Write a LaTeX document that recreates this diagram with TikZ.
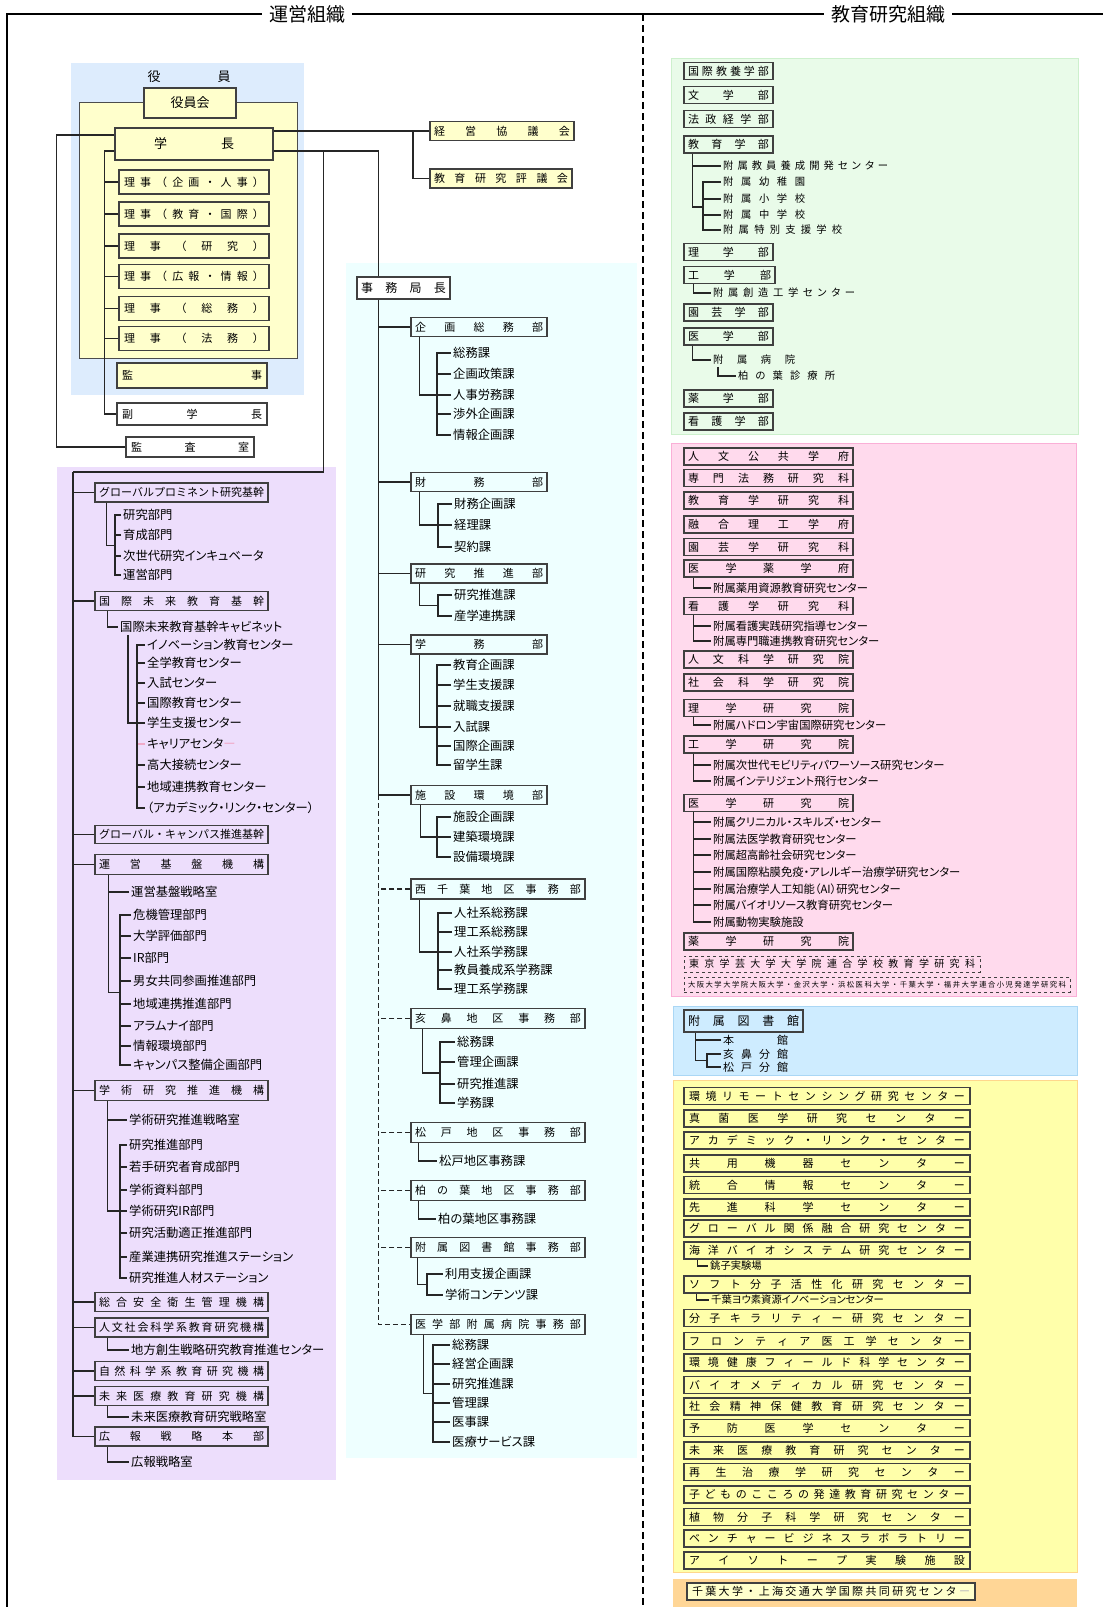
\documentclass[tikz,border=0pt]{standalone}
\usepackage{fontspec}
\setmainfont{Noto Sans CJK JP}
\newfontfamily\jpprop[RawFeature=+palt]{Noto Sans CJK JP}
\usetikzlibrary{calc}
\definecolor{yakuinblue}{RGB}{221,236,253}
\definecolor{paleyellow}{RGB}{255,255,204}
\definecolor{jimucyan}{RGB}{238,255,255}
\definecolor{kikolilac}{RGB}{237,222,252}
\definecolor{gakubugreen}{RGB}{233,251,233}
\definecolor{gakubuedge}{RGB}{205,240,205}
\definecolor{fupink}{RGB}{255,218,237}
\definecolor{fupinkedge}{RGB}{250,175,215}
\definecolor{toshoblue}{RGB}{206,236,255}
\definecolor{toshoedge}{RGB}{170,215,245}
\definecolor{centeryellow}{RGB}{255,255,170}
\definecolor{centeredge}{RGB}{255,215,140}
\definecolor{kyodoorange}{RGB}{255,214,150}
\definecolor{fadepink}{RGB}{240,170,200}
\newcommand\bxfont{\fontsize{11}{13}\selectfont}
\newcommand\itmfont{\jpprop\fontsize{12.3}{14}\selectfont}
\newcommand\pkfont{\jpprop\fontsize{11.3}{13}\selectfont}
\newcommand\smfont{\jpprop\fontsize{10.3}{12}\selectfont}
\newcommand\hdfont{\fontsize{19}{21}\selectfont}
% spread the characters of #2 over #1 pt
\makeatletter
\newcommand\spr[2]{\makebox[#1pt][s]{\let\spr@sep\relax\expandafter\@tfor\expandafter\spr@c\expandafter:\expandafter=#2\do{\spr@sep\spr@c\let\spr@sep\hfil}}}
\makeatother
\tikzstyle{box}  = [rectangle, draw=black!75, line width=1.3pt, inner sep=0pt,
                    minimum height=17pt, font=\bxfont]
\tikzstyle{item} = [anchor=west, inner sep=2pt, font=\itmfont]
\tikzstyle{link} = [line width=1.1pt, draw=black!85]

\begin{document}
\begin{tikzpicture}[x=1pt, y=-1pt]
  \useasboundingbox (0,0) rectangle (1103,1607);

  % areas
  \fill[yakuinblue] (71,63) rectangle (304,395);
  \fill[jimucyan] (346,263) rectangle (637,1458);
  \fill[kikolilac] (57,467) rectangle (336,1480);
  \filldraw[fill=gakubugreen, draw=gakubuedge] (671,58) rectangle (1078,434);
  \filldraw[fill=fupink, draw=fupinkedge] (671,443) rectangle (1076,996);
  \filldraw[fill=toshoblue, draw=toshoedge] (673,1006) rectangle (1077,1075);
  \filldraw[fill=centeryellow, draw=centeredge] (673,1080) rectangle (1077,1572);
  \fill[kyodoorange] (673,1579) rectangle (1077,1607);

  % headings
  \node (hdunei)   at (307,14) [font=\hdfont, inner sep=7pt] {運営組織};
  \node (hdkyoiku) at (888,14) [font=\hdfont, inner sep=7pt] {教育研究組織};
  \draw[line width=2pt] (7,1607) |- (hdunei.west);
  \draw[line width=2pt] (hdunei.east) -- (hdkyoiku.west);
  \draw[line width=2pt] (hdkyoiku.east) -- (1103,14);
  \draw[line width=1.3pt, dash pattern=on 7pt off 4pt] (643,14) -- (643,1607);

  % ---------- yakuin ----------
  \node (yakuin) at (189,77) [font=\fontsize{13}{14}\selectfont] {\spr{83}{役員}};
  \filldraw[fill=paleyellow, draw=black!70, line width=1pt] (79,102) rectangle (297,358);
  \node (yakuinkai) [box, fill=paleyellow, minimum width=92, minimum height=30,
        font=\fontsize{13}{14}\selectfont] at (190,103) {役員会};
  \node (gakucho) [box, fill=paleyellow, minimum width=158, minimum height=32,
        font=\fontsize{13}{14}\selectfont] at (194,144) {\spr{80}{学長}};
  \node (riji1) [box, fill=paleyellow, minimum width=150, minimum height=24] at (194,182)   {\spr{140}{理事（企画・人事）}};
  \node (riji2) [box, fill=paleyellow, minimum width=150, minimum height=24] at (194,214)   {\spr{140}{理事（教育・国際）}};
  \node (riji3) [box, fill=paleyellow, minimum width=150, minimum height=24] at (194,246)   {\spr{140}{理事（研究）}};
  \node (riji4) [box, fill=paleyellow, minimum width=150, minimum height=24] at (194,276.5) {\spr{140}{理事（広報・情報）}};
  \node (riji5) [box, fill=paleyellow, minimum width=150, minimum height=24] at (194,308.5) {\spr{140}{理事（総務）}};
  \node (riji6) [box, fill=paleyellow, minimum width=150, minimum height=24] at (194,338.5) {\spr{140}{理事（法務）}};
  \node (kanji) [box, fill=paleyellow, minimum width=150, minimum height=25] at (192,375.5) {\spr{140}{監事}};
  \node (fukugakucho) [box, fill=white, minimum width=150, minimum height=22] at (192,414) {\spr{140}{副学長}};
  \node (kansashitsu) [box, fill=white, minimum width=128, minimum height=20] at (190,447) {\spr{118}{監査室}};

  \node (keiei)  [box, fill=paleyellow, minimum width=144, minimum height=19] at (502,131)   {\spr{136}{経営協議会}};
  \node (kyoken) [box, fill=paleyellow, minimum width=142, minimum height=19] at (501,178.5) {\spr{134}{教育研究評議会}};
  \coordinate (kj)   at (413,131);
  \coordinate (ptop) at (73,472);

  \draw[link] ([yshift=9]gakucho.west) -- ++(-58,0) |- (kansashitsu.west);
  \draw[link] ([yshift=-7]gakucho.west) -- ++(-10,0) |- (fukugakucho.west);
  \foreach \i in {1,...,6} \draw[link] (riji\i.west) -- ++(-14,0);
  \draw[link] ([yshift=13]gakucho.east) -- (keiei.west);
  \draw[link] (kj) |- (kyoken.west);

  % ---------- jimukyoku ----------
  \node (jimu) [box, fill=white, minimum width=93, minimum height=22, font=\fontsize{12}{14}\selectfont]
        at (403.5,288) {\spr{85}{事務局長}};
  \draw[link] ([yshift=-7]gakucho.east) -| ([xshift=22]jimu.north west);

  \node (kikaku)   [box, minimum width=136, minimum height=19] at (479,327)   {\spr{128}{企画総務部}};
  \node (zaimu)    [box, minimum width=136, minimum height=19] at (479,482)   {\spr{128}{財務部}};
  \node (kensui)   [box, minimum width=136, minimum height=19] at (479,573.5) {\spr{128}{研究推進部}};
  \node (gakumu)   [box, minimum width=136, minimum height=19] at (479,644.5) {\spr{128}{学務部}};
  \node (shisetsu) [box, minimum width=136, minimum height=19] at (479,795)   {\spr{128}{施設環境部}};
  \node (nishi)    [box, minimum width=174, minimum height=20] at (498,889)   {\spr{166}{西千葉地区事務部}};
  \node (inohana)  [box, minimum width=174, minimum height=20] at (498,1018.5){\spr{166}{亥鼻地区事務部}};
  \node (matsudo)  [box, minimum width=174, minimum height=20] at (498,1132.5){\spr{166}{松戸地区事務部}};
  \node (kashiwa)  [box, minimum width=174, minimum height=20] at (498,1190.5){\spr{166}{柏の葉地区事務部}};
  \node (toshojimu)[box, minimum width=174, minimum height=20] at (498,1247.5){\spr{166}{附属図書館事務部}};
  \node (byoin)    [box, minimum width=174, minimum height=20] at (498,1324.5){\spr{166}{医学部附属病院事務部}};

  \draw[link] ([xshift=22]jimu.south west) |- (shisetsu.west);
  \foreach \n in {kikaku,zaimu,kensui,gakumu} \draw[link] (\n.west) -- ++(-32,0);
  \draw[link, dash pattern=on 5pt off 3pt] ([xshift=-32]shisetsu.west) |- (byoin.west);
  \foreach \n in {nishi,inohana,matsudo,kashiwa,toshojimu}
    \draw[link, dash pattern=on 5pt off 3pt] (\n.west) -- ++(-32,0);

  % kikaku somu
  \node[item] (kk1) at (451,353) {総務課};
  \node[item] (kk2) at (451,374) {企画政策課};
  \node[item] (kk3) at (451,395) {人事労務課};
  \node[item] (kk4) at (451,414) {渉外企画課};
  \node[item] (kk5) at (451,435) {情報企画課};
  \draw[link] (kk1.west) -| ([xshift=-14]kk5.west) -- (kk5.west);
  \foreach \n in {kk2,kk3,kk4} \draw[link] (\n.west) -- ++(-14,0);
  \draw[link] ([xshift=9]kikaku.south west) |- ([xshift=-14]kk3.west);
  % zaimu
  \node[item] (zm1) at (452,504) {財務企画課};
  \node[item] (zm2) at (452,525) {経理課};
  \node[item] (zm3) at (452,547) {契約課};
  \draw[link] (zm1.west) -| ([xshift=-14]zm3.west) -- (zm3.west);
  \draw[link] ([xshift=9]zaimu.south west) |- (zm2.west);
  % kenkyu suishin
  \node[item] (ks1) at (452,595) {研究推進課};
  \node[item] (ks2) at (452,616) {産学連携課};
  \draw[link] (ks1.west) -| ([xshift=-14]ks2.west) -- (ks2.west);
  \draw[link] ([xshift=9]kensui.south west) |- ($(ks1.west)!.5!(ks2.west)+(-14,0)$);
  % gakumu
  \node[item] (gm1) at (451,665) {教育企画課};
  \node[item] (gm2) at (451,685) {学生支援課};
  \node[item] (gm3) at (451,706) {就職支援課};
  \node[item] (gm4) at (451,727) {入試課};
  \node[item] (gm5) at (451,746) {国際企画課};
  \node[item] (gm6) at (451,765) {留学生課};
  \draw[link] (gm1.west) -| ([xshift=-14]gm6.west) -- (gm6.west);
  \foreach \n in {gm2,gm3,gm4,gm5} \draw[link] (\n.west) -- ++(-14,0);
  \draw[link] ([xshift=9]gakumu.south west) |- ([xshift=-14]gm4.west);
  % shisetsu
  \node[item] (ss1) at (451,817) {施設企画課};
  \node[item] (ss2) at (451,837) {建築環境課};
  \node[item] (ss3) at (451,857) {設備環境課};
  \draw[link] (ss1.west) -| ([xshift=-14]ss3.west) -- (ss3.west);
  \draw[link] ([xshift=10]shisetsu.south west) |- (ss2.west);
  % nishi chiba
  \node[item] (nc1) at (452,913) {人社系総務課};
  \node[item] (nc2) at (452,932) {理工系総務課};
  \node[item] (nc3) at (452,952) {人社系学務課};
  \node[item] (nc4) at (452,970) {教員養成系学務課};
  \node[item] (nc5) at (452,989) {理工系学務課};
  \draw[link] (nc1.west) -| ([xshift=-14]nc5.west) -- (nc5.west);
  \foreach \n in {nc2,nc3,nc4} \draw[link] (\n.west) -- ++(-14,0);
  \draw[link] ([xshift=9]nishi.south west) |- ([xshift=-14]nc3.west);
  % inohana
  \node[item] (ih1) at (455,1042) {総務課};
  \node[item] (ih2) at (455,1062) {管理企画課};
  \node[item] (ih3) at (455,1084) {研究推進課};
  \node[item] (ih4) at (455,1103) {学務課};
  \draw[link] (ih1.west) -| ([xshift=-15]ih4.west) -- (ih4.west);
  \foreach \n in {ih2,ih3} \draw[link] (\n.west) -- ++(-15,0);
  \draw[link] ([xshift=12]inohana.south west) |- ($(ih2.west)!.5!(ih3.west)+(-15,0)$);
  % matsudo, kashiwa
  \node[item] (md1) at (437,1161) {松戸地区事務課};
  \draw[link] ([xshift=8]matsudo.south west) |- (md1.west);
  \node[item] (kw1) at (436,1219) {柏の葉地区事務課};
  \draw[link] ([xshift=8]kashiwa.south west) |- (kw1.west);
  % toshokan jimu
  \node[item] (tj1) at (443,1274) {利用支援企画課};
  \node[item] (tj2) at (443,1295) {学術コンテンツ課};
  \draw[link] (tj1.west) -| ([xshift=-16]tj2.west) -- (tj2.west);
  \draw[link] ([xshift=7]toshojimu.south west) |- ($(tj1.west)!.5!(tj2.west)+(-16,0)$);
  % byoin jimu
  \node[item] (bj1) at (450,1345) {総務課};
  \node[item] (bj2) at (450,1364) {経営企画課};
  \node[item] (bj3) at (450,1384) {研究推進課};
  \node[item] (bj4) at (450,1403) {管理課};
  \node[item] (bj5) at (450,1422) {医事課};
  \node[item] (bj6) at (450,1442) {医療サービス課};
  \draw[link] (bj1.west) -| ([xshift=-17]bj6.west) -- (bj6.west);
  \foreach \n in {bj2,bj3,bj4,bj5} \draw[link] (\n.west) -- ++(-17,0);
  \draw[link] ([xshift=13]byoin.south west) |- ($(bj3.west)!.5!(bj4.west)+(-17,0)$);

  % ---------- kiko (purple) ----------
  \node (gp)        [box, minimum width=173, minimum height=19] at (181.5,492.5) {\spr{165}{グローバルプロミネント研究基幹}};
  \node (kokusai)   [box, minimum width=173, minimum height=19] at (181.5,601)   {\spr{165}{国際未来教育基幹}};
  \node (gcampus)   [box, minimum width=173, minimum height=18] at (181.5,834.5) {\spr{165}{グローバル・キャンパス推進基幹}};
  \node (unei)      [box, minimum width=173, minimum height=20] at (181.5,864.5) {\spr{165}{運営基盤機構}};
  \node (gakujutsu) [box, minimum width=173, minimum height=20] at (181.5,1090.5){\spr{165}{学術研究推進機構}};
  \node (anzen)     [box, minimum width=173, minimum height=19] at (181.5,1302)  {\spr{165}{総合安全衛生管理機構}};
  \node (jinbun)    [box, minimum width=173, minimum height=19] at (181.5,1327.5){\spr{165}{人文社会科学系教育研究機構}};
  \node (shizen)    [box, minimum width=173, minimum height=19] at (181.5,1371)  {\spr{165}{自然科学系教育研究機構}};
  \node (mirai)     [box, minimum width=173, minimum height=19] at (181.5,1396)  {\spr{165}{未来医療教育研究機構}};
  \node (koho)      [box, minimum width=173, minimum height=19] at (181.5,1436.5){\spr{165}{広報戦略本部}};

  \draw[link] ([yshift=-7]gakucho.east) -- ++(50,0) |- (ptop);
  \draw[link] (ptop) |- (koho.west);
  \foreach \n in {gp,kokusai,gcampus,unei,gakujutsu,anzen,jinbun,shizen,mirai}
    \draw[link] (\n.west) -- ++(-22,0);

  % global prominent
  \node[item] (gp1) at (121,515) {研究部門};
  \node[item] (gp2) at (121,535) {育成部門};
  \node[item] (gp3) at (121,556) {次世代研究インキュベータ};
  \node[item] (gp4) at (121,575) {運営部門};
  \draw[link] (gp1.west) -| ([xshift=-6]gp4.west) -- (gp4.west);
  \foreach \n in {gp2,gp3} \draw[link] (\n.west) -- ++(-6,0);
  \draw[link] ([xshift=12]gp.south west) |- ($(gp2.west)!.5!(gp3.west)+(-6,0)$);
  % kokusai mirai
  \node[item] (cab) at (118,627) {国際未来教育基幹キャビネット};
  \draw[link] ([xshift=13]kokusai.south west) |- (cab.west);
  \node[item] (cc1) at (145,645) {イノベーション教育センター};
  \node[item] (cc2) at (145,663) {全学教育センター};
  \node[item] (cc3) at (145,683) {入試センター};
  \node[item] (cc4) at (145,703) {国際教育センター};
  \node[item] (cc5) at (145,723) {学生支援センター};
  \node[item] (cc6) at (145,744) {キャリアセンタ{\color{fadepink}ー}};
  \node[item] (cc7) at (145,765) {高大接続センター};
  \node[item] (cc8) at (145,787) {地域連携教育センター};
  \node[item] (cc9) at (145,808) {（アカデミック・リンク・センター）};
  \draw[link] (cc1.west) -| ([xshift=-8]cc9.west) -- (cc9.west);
  \foreach \n in {cc2,cc3,cc4,cc5,cc7,cc8} \draw[link] (\n.west) -- ++(-8,0);
  \draw[link, draw=fadepink] (cc6.west) -- ++(-7,0);
  \draw[link] ([xshift=10]cab.south west) |- ([xshift=-8]cc5.west);
  % unei kiban
  \node[item] (u0) at (129,892)  {運営基盤戦略室};
  \node[item] (u1) at (131,915)  {危機管理部門};
  \node[item] (u2) at (131,936)  {大学評価部門};
  \node[item] (u3) at (131,958)  {IR部門};
  \node[item] (u4) at (131,981)  {男女共同参画推進部門};
  \node[item] (u5) at (131,1004) {地域連携推進部門};
  \node[item] (u6) at (131,1026) {アラムナイ部門};
  \node[item] (u7) at (131,1046) {情報環境部門};
  \node[item] (u8) at (131,1065) {キャンパス整備企画部門};
  \draw[link] (u1.west) -| ([xshift=-11]u8.west) -- (u8.west);
  \foreach \n in {u2,u3,u4,u5,u6,u7} \draw[link] (\n.west) -- ++(-11,0);
  \draw[link] ([xshift=14]unei.south west) |- ($(u4.west)!.5!(u5.west)+(-11,0)$);
  \draw[link] (u0.west) -- ++(-20,0);
  % gakujutsu kenkyu
  \node[item] (g0) at (127,1120) {学術研究推進戦略室};
  \node[item] (g1) at (127,1145) {研究推進部門};
  \node[item] (g2) at (127,1167) {若手研究者育成部門};
  \node[item] (g3) at (127,1190) {学術資料部門};
  \node[item] (g4) at (127,1211) {学術研究IR部門};
  \node[item] (g5) at (127,1233) {研究活動適正推進部門};
  \node[item] (g6) at (127,1257) {産業連携研究推進ステーション};
  \node[item] (g7) at (127,1278) {研究推進人材ステーション};
  \draw[link] (g1.west) -| ([xshift=-7]g7.west) -- (g7.west);
  \foreach \n in {g2,g3,g5,g6} \draw[link] (\n.west) -- ++(-7,0);
  \draw[link] ([xshift=13]gakujutsu.south west) |- (g4.west);
  \draw[link] (g0.west) -- ++(-19,0);
  % jinbun, mirai, koho
  \node[item] (js1) at (129,1350) {地方創生戦略研究教育推進センター};
  \draw[link] ([xshift=13]jinbun.south west) |- (js1.west);
  \node[item] (ms1) at (129,1417) {未来医療教育研究戦略室};
  \draw[link] ([xshift=13]mirai.south west) |- (ms1.west);
  \node[item] (hs1) at (129,1462) {広報戦略室};
  \draw[link] ([xshift=13]koho.south west) |- (hs1.west);

  % ---------- gakubu (green) ----------
  \node (kyoyo)  [box, minimum width=89] at (728.5,71)    {\spr{81}{国際教養学部}};
  \node (bun)    [box, minimum width=89] at (728.5,95)    {\spr{81}{文学部}};
  \node (hosei)  [box, minimum width=89] at (728.5,119)   {\spr{81}{法政経学部}};
  \node (kyoiku) [box, minimum width=89] at (728.5,144.5) {\spr{81}{教育学部}};
  \node (rigaku) [box, minimum width=89] at (728.5,252)   {\spr{81}{理学部}};
  \node (kogaku) [box, minimum width=91] at (729.5,275)   {\spr{83}{工学部}};
  \node (engei)  [box, minimum width=89] at (728.5,312.5) {\spr{81}{園芸学部}};
  \node (igaku)  [box, minimum width=89] at (728.5,336.5) {\spr{81}{医学部}};
  \node (yaku)   [box, minimum width=89] at (728.5,398.5) {\spr{81}{薬学部}};
  \node (kango)  [box, minimum width=89] at (728.5,421.5) {\spr{81}{看護学部}};

  \node[item, font=\smfont] (e0) at (721,166) {\spr{165}{附属教員養成開発センター}};
  \node[item, font=\smfont] (e1) at (721,182) {\spr{82}{附属幼稚園}};
  \node[item, font=\smfont] (e2) at (721,199) {\spr{82}{附属小学校}};
  \node[item, font=\smfont] (e3) at (721,215) {\spr{82}{附属中学校}};
  \node[item, font=\smfont] (e4) at (721,230) {\spr{119}{附属特別支援学校}};
  \draw[link] (e1.west) -| ([xshift=-18]e4.west) -- (e4.west);
  \foreach \n in {e2,e3} \draw[link] (\n.west) -- ++(-18,0);
  \draw[link] ([xshift=9]kyoiku.south west) |- ($(e2.west)!.5!(e3.west)+(-18,0)$);
  \draw[link] (e0.west) -- ++(-28,0);

  \node[item, font=\smfont] (kg1) at (711,293) {\spr{142}{附属創造工学センター}};
  \draw[link] ([xshift=10]kogaku.south west) |- (kg1.west);
  \node[item, font=\smfont] (ig1) at (711,360) {\spr{82}{附属病院}};
  \draw[link] ([xshift=9]igaku.south west) |- (ig1.west);
  \node[item, font=\smfont] (ig2) at (736,376) {\spr{97}{柏の葉診療所}};
  \draw[link] ([xshift=7]ig1.south west) |- (ig2.west);

  % ---------- gakufu (pink) ----------
  \node (pj1)  [box, minimum width=169] at (768.5,456.5) {\spr{161}{人文公共学府}};
  \node (pj2)  [box, minimum width=169] at (768.5,478)   {\spr{161}{専門法務研究科}};
  \node (pj3)  [box, minimum width=169] at (768.5,500.5) {\spr{161}{教育学研究科}};
  \node (pj4)  [box, minimum width=169] at (768.5,524.5) {\spr{161}{融合理工学府}};
  \node (pj5)  [box, minimum width=169] at (768.5,547)   {\spr{161}{園芸学研究科}};
  \node (pj6)  [box, minimum width=169] at (768.5,568.5) {\spr{161}{医学薬学府}};
  \node (pj7)  [box, minimum width=169] at (768.5,606)   {\spr{161}{看護学研究科}};
  \node (pj8)  [box, minimum width=169] at (768.5,659.5) {\spr{161}{人文科学研究院}};
  \node (pj9)  [box, minimum width=169] at (768.5,682.5) {\spr{161}{社会科学研究院}};
  \node (pj10) [box, minimum width=169] at (768.5,708)   {\spr{161}{理学研究院}};
  \node (pj11) [box, minimum width=169] at (768.5,744.5) {\spr{161}{工学研究院}};
  \node (pj12) [box, minimum width=169] at (768.5,803)   {\spr{161}{医学研究院}};
  \node (pj13) [box, minimum width=169] at (768.5,941.5) {\spr{161}{薬学研究院}};
  \node (rengo1) [box, dashed, line width=0.8pt, minimum width=296, minimum height=16,
         font=\fontsize{10}{12}\selectfont] at (832,964) {\spr{286}{東京学芸大学大学院連合学校教育学研究科}};
  \node (rengo2) [box, dashed, line width=0.8pt, minimum width=386, minimum height=15,
         font=\fontsize{7.3}{9}\selectfont] at (877,984.5) {\spr{378}{大阪大学大学院大阪大学・金沢大学・浜松医科大学・千葉大学・福井大学連合小児発達学研究科}};

  \node[item, font=\pkfont] (pa1) at (711,588) {附属薬用資源教育研究センター};
  \draw[link] ([xshift=10]pj6.south west) |- (pa1.west);
  \node[item, font=\pkfont] (pb1) at (711,626) {附属看護実践研究指導センター};
  \node[item, font=\pkfont] (pb2) at (711,641) {附属専門職連携教育研究センター};
  \draw[link] ([xshift=10]pj7.south west) |- (pb2.west);
  \draw[link] (pb1.west) -- ++(-17,0);
  \node[item, font=\pkfont] (pc1) at (711,725) {附属ハドロン宇宙国際研究センター};
  \draw[link] ([xshift=10]pj10.south west) |- (pc1.west);
  \node[item, font=\pkfont] (pd1) at (711,765) {附属次世代モビリティパワーソース研究センター};
  \node[item, font=\pkfont] (pd2) at (711,781) {附属インテリジェント飛行センター};
  \draw[link] ([xshift=10]pj11.south west) |- (pd2.west);
  \draw[link] (pd1.west) -- ++(-17,0);
  \node[item, font=\pkfont] (pe1) at (711,822) {附属クリニカル・スキルズ・センター};
  \node[item, font=\pkfont] (pe2) at (711,839) {附属法医学教育研究センター};
  \node[item, font=\pkfont] (pe3) at (711,855) {附属超高齢社会研究センター};
  \node[item, font=\pkfont] (pe4) at (711,872) {附属国際粘膜免疫・アレルギー治療学研究センター};
  \node[item, font=\pkfont] (pe5) at (711,889) {附属治療学人工知能（AI）研究センター};
  \node[item, font=\pkfont] (pe6) at (711,905) {附属バイオリソース教育研究センター};
  \node[item, font=\pkfont] (pe7) at (711,922) {附属動物実験施設};
  \draw[link] ([xshift=10]pj12.south west) |- (pe7.west);
  \foreach \n in {pe1,pe2,pe3,pe4,pe5,pe6} \draw[link] (\n.west) -- ++(-17,0);

  % ---------- toshokan (blue) ----------
  \node (toshokan) [box, minimum width=119, minimum height=22, font=\fontsize{12}{14}\selectfont]
        at (743.5,1021) {\spr{111}{附属図書館}};
  \node[item, font=\bxfont] (lb1) at (721,1040) {\spr{65}{本館}};
  \node[item, font=\bxfont] (lb2) at (721,1054) {\spr{65}{亥鼻分館}};
  \node[item, font=\bxfont] (lb3) at (721,1067) {\spr{65}{松戸分館}};
  \draw[link] (lb2.west) -| ([xshift=-14]lb3.west) -- (lb3.west);
  \draw[link] ([xshift=12]toshokan.south west) |- ($(lb2.west)!.5!(lb3.west)+(-14,0)$);
  \draw[link] (lb1.west) -- ++(-25,0);

  % ---------- centers (yellow) ----------
  \node (cen1)  [box, minimum width=286] at (827,1096)   {\spr{276}{環境リモートセンシング研究センター}};
  \node (cen2)  [box, minimum width=286] at (827,1118.5) {\spr{276}{真菌医学研究センター}};
  \node (cen3)  [box, minimum width=286] at (827,1140.5) {\spr{276}{アカデミック・リンク・センター}};
  \node (cen4)  [box, minimum width=286] at (827,1163.5) {\spr{276}{共用機器センター}};
  \node (cen5)  [box, minimum width=286] at (827,1185)   {\spr{276}{統合情報センター}};
  \node (cen6)  [box, minimum width=286] at (827,1207.5) {\spr{276}{先進科学センター}};
  \node (cen7)  [box, minimum width=286] at (827,1228.5) {\spr{276}{グローバル関係融合研究センター}};
  \node (cen8)  [box, minimum width=286] at (827,1250.5) {\spr{276}{海洋バイオシステム研究センター}};
  \node (cen9)  [box, minimum width=286] at (827,1284.5) {\spr{276}{ソフト分子活性化研究センター}};
  \node (cen10) [box, minimum width=286] at (827,1318)   {\spr{276}{分子キラリティー研究センター}};
  \node (cen11) [box, minimum width=286] at (827,1341)   {\spr{276}{フロンティア医工学センター}};
  \node (cen12) [box, minimum width=286] at (827,1362.5) {\spr{276}{環境健康フィールド科学センター}};
  \node (cen13) [box, minimum width=286] at (827,1385)   {\spr{276}{バイオメディカル研究センター}};
  \node (cen14) [box, minimum width=286] at (827,1406.5) {\spr{276}{社会精神保健教育研究センター}};
  \node (cen15) [box, minimum width=286] at (827,1428)   {\spr{276}{予防医学センター}};
  \node (cen16) [box, minimum width=286] at (827,1450.5) {\spr{276}{未来医療教育研究センター}};
  \node (cen17) [box, minimum width=286] at (827,1472)   {\spr{276}{再生治療学研究センター}};
  \node (cen18) [box, minimum width=286] at (827,1494.5) {\spr{276}{子どものこころの発達教育研究センター}};
  \node (cen19) [box, minimum width=286] at (827,1517)   {\spr{276}{植物分子科学研究センター}};
  \node (cen20) [box, minimum width=286] at (827,1538.5) {\spr{276}{ベンチャービジネスラボラトリー}};
  \node (cen21) [box, minimum width=286] at (827,1560.5) {\spr{276}{アイソトープ実験施設}};
  \node[item, font=\smfont] (choshi) at (708,1266) {銚子実験場};
  \draw[link] ([xshift=14]cen8.south west) |- (choshi.west);
  \node[item, font=\smfont] (yoso) at (709,1300) {千葉ヨウ素資源イノベーションセンター};
  \draw[link] ([xshift=13]cen9.south west) |- (yoso.west);

  % ---------- kyodo (orange) ----------
  \node (shanghai) [box, fill=paleyellow, minimum width=288] at (831,1591.5)
        {\spr{278}{千葉大学・上海交通大学国際共同研究センタ{\color{black!25}ー}}};
\end{tikzpicture}
\end{document}
